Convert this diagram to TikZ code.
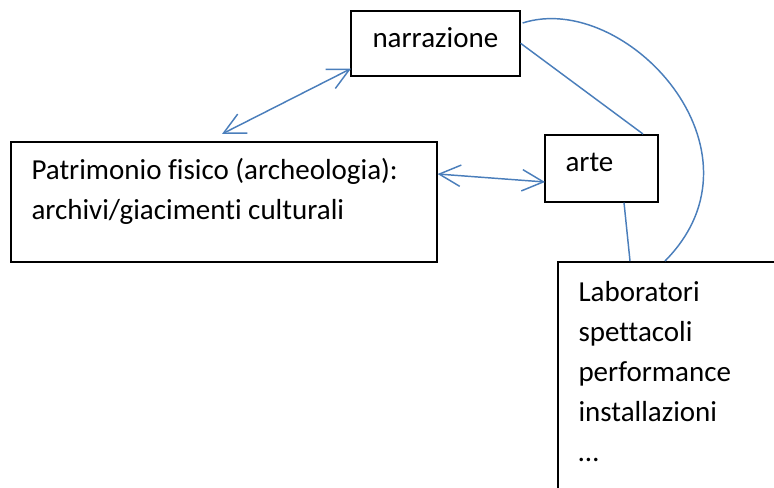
\documentclass[tikz,border=0pt]{standalone}
\usepackage{fontspec}
\setmainfont{Carlito}[Ligatures=CommonOff]
\usetikzlibrary{arrows.meta,calc}

\definecolor{linkblue}{RGB}{74,126,187}
\tikzset{every picture/.style={line width=0.75pt}}
\tikzset{
  box/.style={draw=black, line width=1.2pt, rectangle, anchor=north west, inner sep=0pt},
  txt/.style={anchor=base west, inner sep=0pt, align=left, font=\fontsize{21.75}{30}\selectfont},
  link/.style={draw=linkblue, line width=1.1pt},
  twoway/.style={link, {Straight Barb[length=16pt,width=16pt]}-{Straight Barb[length=16pt,width=16pt]}}
}

\begin{document}
\begin{tikzpicture}[x=0.75pt,y=0.75pt,yscale=-1,xscale=1]
%set diagram left start at 0, and has height of 488
\useasboundingbox (0,0) rectangle (774,488);

%Shape: Rectangle
\node[box, minimum width=126.75pt, minimum height=48.75pt] (narr) at (350,10) {};
%Shape: Rectangle
\node[box, minimum width=319.5pt, minimum height=90pt] (patr) at (10,141) {};
%Shape: Rectangle
\node[box, minimum width=84.75pt, minimum height=50.25pt] (arte) at (544,134) {};
%Shape: Rectangle (runs off the page)
\node[box, minimum width=190pt, minimum height=200pt] (lab) at (557,261) {};

% Text Node
\node[txt] (narrtxt) at (372,48) {narrazione};
% Text Node (base = last line)
\node[txt] (patrtxt) at (31,220) {Patrimonio fisico (archeologia):\\archivi/giacimenti culturali};
% Text Node
\node[txt] (artetxt) at (565,172) {arte};
% Text Node (base = last line)
\node[txt] (labtxt) at (578,461) {Laboratori\\spettacoli\\performance\\installazioni\\…};

%Straight Lines
\draw[twoway] ($(narr.south west)+(1,-8)$) -- ($(patr.north west)+(212,-7)$);
%Straight Lines
\draw[twoway] ($(patr.north east)+(0,33)$) -- ($(arte.north west)+(1,48)$);
%Straight Lines
\draw[link] (narr.east) -- ($(arte.north west)+(99,0)$);
%Straight Lines
\draw[link] ($(arte.south west)+(80,0)$) -- ($(lab.north west)+(73,0)$);
%Curve Lines
\draw[link] ($(narr.north east)+(2,13)$) .. controls (625,-10) and (775,150) .. ($(lab.north west)+(108,0)$);

\end{tikzpicture}
\end{document}
